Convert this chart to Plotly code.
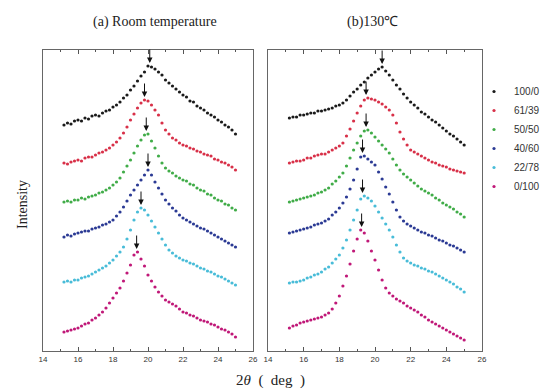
import plotly.graph_objects as go
from plotly.subplots import make_subplots

two_theta = [15.2, 15.4, 15.6, 15.8, 16.0, 16.2, 16.4, 16.6, 16.8, 17.0,
             17.2, 17.4, 17.6, 17.8, 18.0, 18.2, 18.4, 18.6, 18.8, 19.0,
             19.2, 19.4, 19.6, 19.8, 20.0, 20.2, 20.4, 20.6, 20.8, 21.0,
             21.2, 21.4, 21.6, 21.8, 22.0, 22.2, 22.4, 22.6, 22.8, 23.0,
             23.2, 23.4, 23.6, 23.8, 24.0, 24.2, 24.4, 24.6, 24.8, 25.0]

labels = ["100/0", "61/39", "50/50", "40/60", "22/78", "0/100"]
colors = ["#1a1a1a", "#d83048", "#40ac48", "#2b3a94", "#48bcd8", "#c01878"]

# (a) room temperature (offset intensity, arbitrary units)
a_100_0 = [226, 228, 227, 230, 231, 230, 233, 232, 235, 236,
           235, 238, 240, 241, 244, 246, 249, 253, 256, 261,
           265, 270, 275, 279, 285, 284, 282, 279, 276, 271,
           268, 265, 262, 259, 256, 254, 250, 249, 245, 243,
           241, 238, 236, 234, 231, 229, 226, 224, 221, 217]
a_61_39 = [188, 187, 189, 190, 191, 190, 193, 194, 194, 196,
           198, 199, 201, 203, 206, 209, 213, 218, 224, 231,
           237, 243, 248, 251, 250, 246, 241, 236, 228, 221,
           217, 213, 211, 208, 206, 205, 203, 202, 200, 199,
           197, 196, 195, 192, 191, 189, 188, 186, 184, 181]
a_50_50 = [149, 150, 149, 151, 151, 153, 152, 154, 155, 156,
           158, 159, 161, 163, 166, 169, 173, 179, 185, 191,
           198, 205, 211, 216, 217, 210, 203, 195, 188, 183,
           180, 178, 175, 173, 171, 170, 167, 166, 163, 161,
           160, 157, 156, 153, 151, 150, 147, 146, 143, 141]
a_40_60 = [114, 116, 115, 117, 118, 119, 120, 120, 122, 123,
           124, 126, 127, 129, 131, 135, 139, 144, 150, 156,
           161, 166, 171, 176, 181, 176, 169, 163, 157, 151,
           147, 143, 140, 136, 133, 131, 129, 127, 125, 123,
           122, 120, 118, 116, 114, 112, 110, 108, 106, 104]
a_22_78 = [69, 70, 69, 71, 71, 73, 74, 75, 77, 79,
           81, 83, 85, 88, 91, 95, 99, 104, 112, 121,
           131, 139, 143, 141, 136, 130, 124, 118, 112, 106,
           101, 98, 95, 93, 91, 90, 88, 87, 85, 83,
           82, 80, 79, 77, 75, 74, 72, 70, 68, 66]
a_0_100 = [19, 20, 21, 22, 23, 25, 27, 28, 31, 33,
           36, 39, 43, 48, 53, 58, 63, 70, 78, 86,
           96, 99, 92, 85, 76, 70, 64, 59, 55, 51,
           49, 47, 45, 42, 39, 38, 36, 35, 33, 31,
           30, 29, 27, 26, 24, 22, 21, 19, 17, 14]

# (b) 130 C
b_100_0 = [233, 234, 234, 236, 236, 237, 238, 238, 240, 240,
           241, 242, 243, 245, 246, 248, 251, 255, 259, 262,
           266, 269, 273, 276, 279, 282, 284, 280, 276, 271,
           266, 262, 257, 253, 249, 246, 243, 239, 237, 234,
           231, 229, 226, 223, 220, 217, 215, 212, 209, 206]
b_61_39 = [188, 189, 190, 190, 191, 193, 193, 195, 196, 197,
           197, 199, 201, 203, 205, 208, 215, 222, 230, 238,
           245, 251, 253, 252, 251, 249, 247, 244, 241, 236,
           228, 219, 212, 206, 201, 199, 197, 195, 193, 191,
           189, 188, 186, 185, 184, 182, 181, 180, 179, 178]
b_50_50 = [149, 150, 151, 152, 153, 154, 155, 156, 158, 159,
           161, 163, 167, 170, 174, 178, 185, 193, 201, 208,
           215, 220, 221, 218, 214, 210, 206, 202, 198, 192,
           186, 181, 177, 174, 171, 168, 165, 162, 160, 158,
           156, 153, 151, 148, 146, 144, 142, 139, 137, 134]
b_40_60 = [118, 119, 120, 121, 122, 123, 124, 126, 127, 128,
           130, 132, 136, 139, 143, 148, 154, 162, 171, 182,
           194, 195, 192, 189, 186, 179, 172, 164, 157, 149,
           141, 134, 130, 127, 125, 123, 121, 119, 118, 116,
           115, 113, 111, 110, 108, 106, 105, 103, 101, 99]
b_22_78 = [68, 69, 69, 70, 71, 73, 74, 76, 77, 79,
           82, 84, 88, 92, 96, 103, 111, 121, 131, 141,
           152, 155, 153, 150, 145, 139, 133, 127, 121, 114,
           106, 99, 93, 90, 88, 86, 85, 83, 82, 80,
           79, 77, 75, 73, 71, 69, 67, 64, 62, 59]
b_0_100 = [23, 25, 26, 28, 29, 30, 31, 32, 33, 34,
           36, 38, 42, 48, 55, 65, 75, 87, 100, 112,
           121, 118, 110, 100, 91, 81, 71, 63, 58, 55,
           52, 50, 48, 45, 43, 41, 39, 36, 34, 31,
           29, 27, 25, 23, 21, 19, 17, 15, 13, 11]

# peak positions marked by arrows
peaks_a = [20.1, 19.8, 19.9, 20.0, 19.6, 19.35]
peaks_b = [20.4, 19.5, 19.5, 19.3, 19.3, 19.25]

x_ticks = [14, 16, 18, 20, 22, 24, 26]

series_a = [a_100_0, a_61_39, a_50_50, a_40_60, a_22_78, a_0_100]
series_b = [b_100_0, b_61_39, b_50_50, b_40_60, b_22_78, b_0_100]

fig = make_subplots(rows=1, cols=2)

for i, (lab, col) in enumerate(zip(labels, colors)):
    fig.add_trace(go.Scatter(x=two_theta, y=series_a[i], mode="markers",
                             marker=dict(color=col, size=3.2), name=lab,
                             showlegend=True), row=1, col=1)
    fig.add_trace(go.Scatter(x=two_theta, y=series_b[i], mode="markers",
                             marker=dict(color=col, size=3.2), name=lab,
                             showlegend=False), row=1, col=2)

annotations = []
for axname, peaks, series in (("", peaks_a, series_a), ("2", peaks_b, series_b)):
    for px, s in zip(peaks, series):
        annotations.append(dict(x=px, y=max(s) + 3, xref="x" + axname, yref="y" + axname,
                                ax=0, ay=-15, showarrow=True, arrowhead=2,
                                arrowsize=1.1, arrowwidth=1, arrowcolor="#111", text=""))

annotations += [
    dict(text="(a) Room temperature", x=155 / 540, y=1 - 22 / 390, xref="paper", yref="paper",
         xanchor="center", yanchor="middle", showarrow=False,
         font=dict(family="Liberation Serif", size=14, color="#222")),
    dict(text="(b)130℃", x=372 / 540, y=1 - 22 / 390, xref="paper", yref="paper",
         xanchor="center", yanchor="middle", showarrow=False,
         font=dict(family="Liberation Serif", size=14, color="#222")),
    dict(text="Intensity", x=22 / 540, y=1 - 205 / 390, xref="paper", yref="paper",
         xanchor="center", yanchor="middle", textangle=-90, showarrow=False,
         font=dict(family="Liberation Serif", size=14, color="#222")),
    dict(text="2<i>θ</i>  (  deg  )", x=270 / 540, y=1 - 380 / 390, xref="paper", yref="paper",
         xanchor="center", yanchor="middle", showarrow=False,
         font=dict(family="Liberation Serif", size=15, color="#222")),
]

axis_common = dict(range=[14, 26], tickvals=x_ticks, ticks="inside", ticklen=4,
                   tickcolor="#555", showline=True, linecolor="#666", linewidth=1,
                   mirror="ticks", showgrid=False, zeroline=False,
                   tickfont=dict(family="Liberation Sans", size=8, color="#333"),
                   minor=dict(dtick=1, ticks="inside", ticklen=2, tickcolor="#555"))
yaxis_common = dict(range=[0, 301], showticklabels=False, ticks="", showline=True,
                    linecolor="#666", linewidth=1, mirror=True, showgrid=False,
                    zeroline=False)

fig.update_layout(
    width=540, height=390,
    margin=dict(l=0, r=0, t=0, b=0, autoexpand=False),
    paper_bgcolor="white", plot_bgcolor="white",
    xaxis=dict(domain=[43 / 540, 253 / 540], **axis_common),
    xaxis2=dict(domain=[268 / 540, 482 / 540], **axis_common),
    yaxis=dict(domain=[1 - 351 / 390, 1 - 50 / 390], **yaxis_common),
    yaxis2=dict(domain=[1 - 351 / 390, 1 - 50 / 390], **yaxis_common),
    legend=dict(x=474 / 540, y=1 - 77 / 390, xanchor="left", yanchor="top",
                font=dict(family="Liberation Sans", size=10, color="#333"),
                itemwidth=30, tracegroupgap=0, bgcolor="rgba(0,0,0,0)"),
    annotations=annotations,
    showlegend=True,
)

fig.write_html("out.html", config={"displayModeBar": False},
               post_script="document.body.style.margin='0';document.body.style.overflow='hidden';")
